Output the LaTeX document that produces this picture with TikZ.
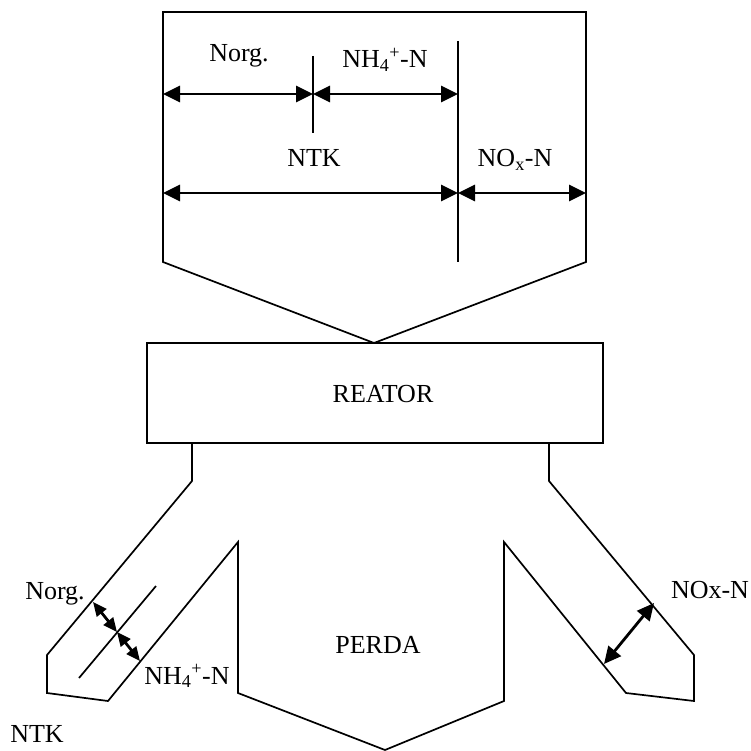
\documentclass[tikz,border=0pt]{standalone}
\usepackage{fontspec}
\setmainfont{Liberation Serif}
\usetikzlibrary{arrows.meta}
\tikzset{
  outline/.style={line width=1.7pt, line join=miter},
  dimarr/.style={line width=2.8pt, {Triangle[length=17pt,width=16pt]}-{Triangle[length=17pt,width=16pt]}},
  smallarr/.style={line width=2.8pt, {Triangle[length=14pt,width=12pt]}-{Triangle[length=14pt,width=12pt]}},
  lbl/.style={font=\fontsize{26}{31}\selectfont, inner sep=0pt, anchor=base},
}
\begin{document}
\begin{tikzpicture}[x=1pt,y=-1pt]
\useasboundingbox (0,0) rectangle (751,751);
% coordinates
\coordinate (tl) at (163,12); \coordinate (tr) at (586,12);
\coordinate (sr) at (586,262); \coordinate (apex) at (374,343);
\coordinate (sl) at (163,262);
\coordinate (d1t) at (313,56); \coordinate (d1b) at (313,133);
\coordinate (d2t) at (458,41); \coordinate (d2b) at (458,262);
\coordinate (a1l) at (163,94); \coordinate (a1m) at (313,94); \coordinate (a1r) at (458,94);
\coordinate (a2l) at (163,193); \coordinate (a2m) at (458,193); \coordinate (a2r) at (586,193);
% top shape
\draw[outline] (tl) -- (tr) -- (sr) -- (apex) -- (sl) -- cycle;
\draw[outline] (d1t) -- (d1b);
\draw[outline] (d2t) -- (d2b);
\draw[dimarr] (a1l) -- (a1m);
\draw[dimarr] (a1m) -- (a1r);
\draw[dimarr] (a2l) -- (a2m);
\draw[dimarr] (a2m) -- (a2r);
\node[lbl] (norg1) at (239,62) {Norg.};
\node[lbl] (nh41) at (385,68) {NH\textsubscript{4}\textsuperscript{+}-N};
\node[lbl] (ntk1) at (314,167) {NTK};
\node[lbl] (nox1) at (515,167) {NO\textsubscript{x}-N};
% reactor
\node[draw, outline, minimum width=456pt, minimum height=100pt, inner sep=0pt] (reator) at (375,393) {};
\node[lbl] (reatortxt) at (383,402) {REATOR};
% lower outline
\draw[outline] (192,443) -- (192,481) -- (47,655) -- (47,693) -- (108,701) -- (238,542)
  -- (238,693) -- (385,750) -- (504,701) -- (504,542) -- (626,693) -- (694,701)
  -- (694,655) -- (549,481) -- (549,443);
% left leg
\coordinate (li1) at (79,678); \coordinate (li2) at (156,586);
\draw[outline] (li1) -- (li2);
\coordinate (la) at (93,602); \coordinate (lm) at (117,632); \coordinate (lb) at (140,661);
\draw[smallarr] (la) -- (lm);
\draw[smallarr] (lm) -- (lb);
\node[lbl] (norg2) at (55,599) {Norg.};
\node[lbl] (nh42) at (187,684) {NH\textsubscript{4}\textsuperscript{+}-N};
\node[lbl] (ntk2) at (37,742) {NTK};
% right leg
\coordinate (ra) at (654,603); \coordinate (rb) at (604,664);
\draw[dimarr] (ra) -- (rb);
\node[lbl] (nox2) at (710,598) {NOx-N};
% perda
\node[lbl] (perda) at (378,653) {PERDA};
\end{tikzpicture}
\end{document}
